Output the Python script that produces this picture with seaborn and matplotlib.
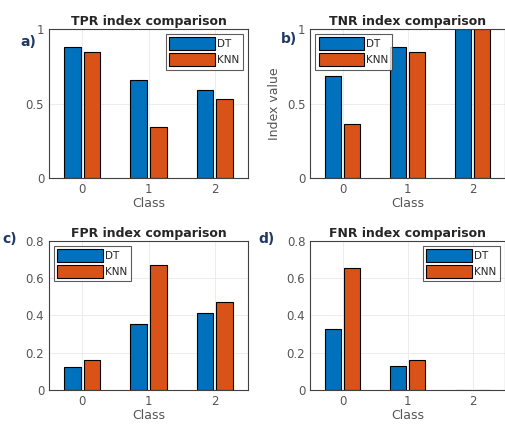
import pandas as pd
import seaborn as sns
import matplotlib.pyplot as plt

# values
classes = ['0', '1', '2']
models = ['DT', 'KNN']
tpr_dt = [0.877, 0.655, 0.590]
tpr_knn = [0.848, 0.340, 0.528]
tnr_dt = [0.682, 0.877, 1.0]
tnr_knn = [0.362, 0.848, 1.0]
fpr_dt = [0.125, 0.356, 0.412]
fpr_knn = [0.161, 0.669, 0.474]
fnr_dt = [0.325, 0.128, 0.0]
fnr_knn = [0.654, 0.162, 0.0]

titles = ['TPR index comparison', 'TNR index comparison',
          'FPR index comparison', 'FNR index comparison']
panel_labels = ['a)', 'b)', 'c)', 'd)']
series = [(tpr_dt, tpr_knn), (tnr_dt, tnr_knn), (fpr_dt, fpr_knn), (fnr_dt, fnr_knn)]

sns.set_style('white')
plt.rcParams['font.family'] = ['DejaVu Sans']
palette = {'DT': '#0072BD', 'KNN': '#D95319'}

fig = plt.figure(figsize=(5.06, 4.28), dpi=100)
positions = [[0.097, 0.584, 0.393, 0.348], [0.613, 0.584, 0.385, 0.348],
             [0.097, 0.089, 0.393, 0.348], [0.613, 0.089, 0.385, 0.348]]
legend_loc = ['upper right', 'upper left', 'upper left', 'upper right']
label_xy = [(0.04, 0.893), (0.555, 0.9), (0.005, 0.432), (0.51, 0.432)]

for i in range(4):
    ax = fig.add_axes(positions[i])
    dt, knn = series[i]
    df = pd.DataFrame({
        'Class': classes * 2,
        'value': dt + knn,
        'Model': ['DT'] * 3 + ['KNN'] * 3,
    })
    sns.barplot(data=df, x='Class', y='value', hue='Model', palette=palette,
                edgecolor='black', linewidth=0.8, width=0.6, gap=0.17,
                saturation=1, ax=ax)
    ax.set_xlim(-0.5, 2.5)
    if i < 2:
        ax.set_ylim(0, 1)
        ax.set_yticks([0, 0.5, 1])
        ax.set_yticklabels(['0', '0.5', '1'])
    else:
        ax.set_ylim(0, 0.8)
        ax.set_yticks([0, 0.2, 0.4, 0.6, 0.8])
        ax.set_yticklabels(['0', '0.2', '0.4', '0.6', '0.8'])
    ax.grid(True, color='#ececec', linewidth=0.7)
    ax.set_axisbelow(True)
    for s in ax.spines.values():
        s.set_color('#404040')
        s.set_linewidth(0.8)
    ax.tick_params(direction='in', length=3, colors='#555555', labelsize=8.5,
                   labelcolor='#555555')
    ax.set_title(titles[i], fontsize=9, fontweight='bold', pad=3)
    ax.set_xlabel('Class', fontsize=9, color='#555555', labelpad=1)
    ax.set_ylabel('Index value' if i == 1 else '', fontsize=9, color='#555555')
    leg = ax.legend(loc=legend_loc[i], fontsize=7.5, handlelength=4.4,
                    handleheight=1.5, frameon=True, fancybox=False,
                    borderpad=0.35, labelspacing=0.3, handletextpad=0.2,
                    borderaxespad=0.45)
    leg.get_frame().set_edgecolor('#333333')
    leg.get_frame().set_linewidth(0.8)
    fig.text(label_xy[i][0], label_xy[i][1], panel_labels[i], fontsize=10,
             fontweight='bold', color='#1F3864')

fig.savefig('out.png', dpi=100)
